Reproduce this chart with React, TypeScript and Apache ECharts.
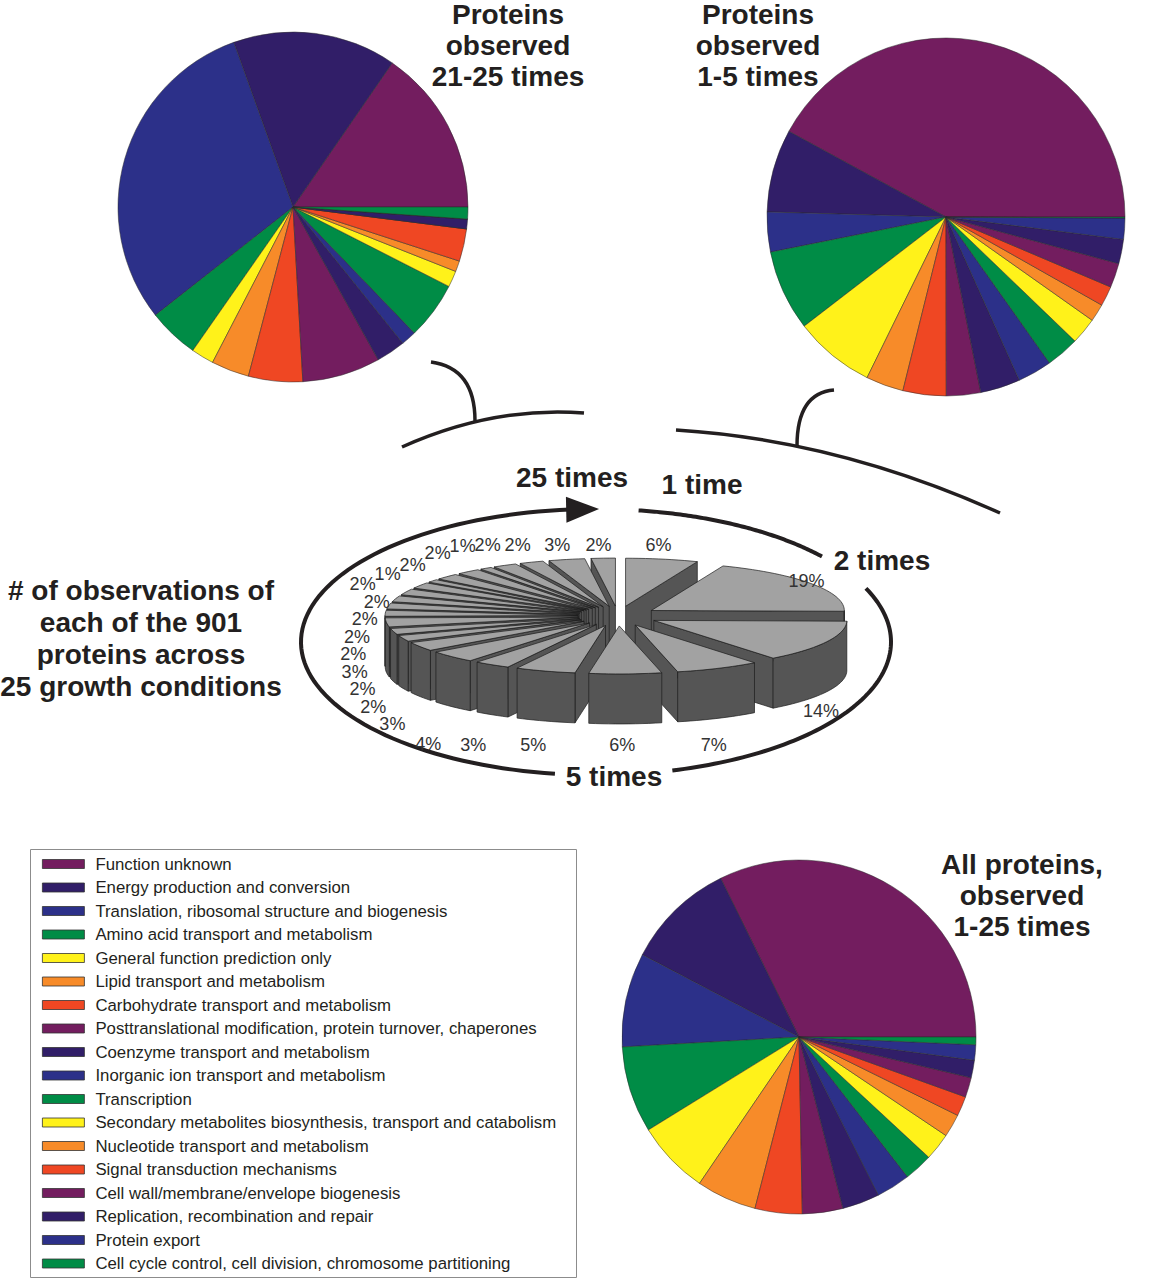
import React, { useEffect, useRef } from 'react';
import * as echarts from 'echarts';

const FONT = '"Liberation Sans", Arial, Helvetica, sans-serif';
const INK = '#231f20';

// COG functional categories (legend order = slice order, counter-clockwise from 3 o'clock)
const categories = [
  'Function unknown',
  'Energy production and conversion',
  'Translation, ribosomal structure and biogenesis',
  'Amino acid transport and metabolism',
  'General function prediction only',
  'Lipid transport and metabolism',
  'Carbohydrate transport and metabolism',
  'Posttranslational modification, protein turnover, chaperones',
  'Coenzyme transport and metabolism',
  'Inorganic ion transport and metabolism',
  'Transcription',
  'Secondary metabolites biosynthesis, transport and catabolism',
  'Nucleotide transport and metabolism',
  'Signal transduction mechanisms',
  'Cell wall/membrane/envelope biogenesis',
  'Replication, recombination and repair',
  'Protein export',
  'Cell cycle control, cell division, chromosome partitioning',
];

const categoryColors = [
  '#731d5f', '#311e68', '#2c3089', '#008c46', '#fff21a', '#f78b29', '#ef4723',
  '#731d5f', '#311e68', '#2c3089', '#008c46', '#fff21a', '#f78b29', '#ef4723',
  '#731d5f', '#311e68', '#2c3089', '#008c46',
];

// shares (%)
const pie21to25 = [15.4, 15.1, 30.1, 4.7, 2.1, 3.5, 5.0, 7.2, 2.7, 1.4, 5.3, 1.5, 1.0, 3.0, 0, 0.9, 0, 1.1];
const pie1to5 = [42.1, 7.5, 3.6, 7.3, 7.3, 3.4, 3.9, 3.1, 3.6, 3.1, 3.0, 2.4, 1.6, 1.8, 2.2, 2.2, 1.9, 0.1];
const pieAll = [32.3, 10.0, 8.6, 7.9, 6.7, 5.5, 4.3, 3.7, 3.4, 3.1, 2.6, 2.5, 2.1, 1.8, 1.8, 1.6, 1.4, 0.7];

// number of observations (1..25 times) -> % of the 901 proteins
const observationLabels = Array.from({ length: 25 }, (_, i) => (i === 0 ? '1 time' : `${i + 1} times`));
const observationShares = [6, 19, 14, 7, 6, 5, 3, 4, 3, 2, 2, 3, 2, 2, 2, 2, 2, 1, 2, 2, 1, 2, 2, 3, 2];

// ---------- 3D pie geometry (layout constants) ----------
const OBS = { cx: 618, cy: 616, rx: 193, ry: 48, depth: 50, explode: 40 };
const obsTotal = observationShares.reduce((a, b) => a + b, 0);
const obsStart: number[] = [];
observationShares.reduce((acc, v) => {
  obsStart.push(acc);
  return acc + v;
}, 0);
const toRad = (d: number) => (d * Math.PI) / 180;
const obsMid = (i: number) => ((obsStart[i] + observationShares[i] / 2) / obsTotal) * 360;

// label positions: on an outer ellipse, then pushed apart on the crowded left side
const obsLabelPos: number[][] = (() => {
  const pos = observationShares.map((_, i) => {
    const s = Math.sin(toRad(obsMid(i)));
    const c = Math.cos(toRad(obsMid(i)));
    return [615 + (s > 0 ? 230 : 262) * s, Math.min(745, Math.max(545, 653 - 130 * c)), c, s];
  });
  const W = 25;
  const H = 17.5;
  for (let i = pos.length - 2; i >= 0; i--) {
    const p = pos[i];
    const q = pos[i + 1];
    if (p[3] >= 0) break;
    if (Math.abs(p[0] - q[0]) < W && Math.abs(p[1] - q[1]) < H) {
      if (p[2] > 0.45) p[0] = q[0] - W;
      else p[1] = q[1] + H;
    }
  }
  return pos;
})();

function renderObsSlice(params: any, api: any) {
  const i = params.dataIndex;
  const v = api.value(0) as number;
  const a0 = (obsStart[i] / obsTotal) * 360;
  const a1 = ((obsStart[i] + v) / obsTotal) * 360;
  const mid = (a0 + a1) / 2;
  const sm = Math.sin(toRad(mid));
  const cm = Math.cos(toRad(mid));
  const ox = OBS.cx + OBS.explode * sm;
  const oy = OBS.cy - OBS.explode * (OBS.ry / OBS.rx) * cm;
  const pt = (deg: number, dz = 0) => [
    ox + OBS.rx * Math.sin(toRad(deg)),
    oy - OBS.ry * Math.cos(toRad(deg)) + dz,
  ];
  const arc = (from: number, to: number, dz: number) => {
    const n = Math.max(2, Math.ceil((to - from) / 2));
    const pts: number[][] = [];
    for (let k = 0; k <= n; k++) pts.push(pt(from + ((to - from) * k) / n, dz));
    return pts;
  };
  const z = Math.round((1 - cm) * 100) * 3;
  const sideStyle = { fill: '#555555', stroke: '#1c1c1c', lineWidth: 0.7, lineJoin: 'round' };
  const children: any[] = [];
  const cut = (deg: number) => ({
    type: 'polygon',
    z2: z,
    shape: { points: [[ox, oy], pt(deg), pt(deg, OBS.depth), [ox, oy + OBS.depth]] },
    style: sideStyle,
  });
  if (Math.sin(toRad(a0)) < -1e-6) children.push(cut(a0));
  if (Math.sin(toRad(a1)) > 1e-6) children.push(cut(a1));
  const w0 = Math.max(a0, 90);
  const w1 = Math.min(a1, 270);
  if (w1 > w0) {
    children.push({
      type: 'polygon',
      z2: z,
      shape: { points: [...arc(w0, w1, 0), ...arc(w0, w1, OBS.depth).reverse()] },
      style: sideStyle,
    });
  }
  children.push({
    type: 'polygon',
    z2: z + 1,
    shape: { points: [[ox, oy], ...arc(a0, a1, 0)] },
    style: { fill: '#a2a2a2', stroke: '#1c1c1c', lineWidth: 0.7, lineJoin: 'round' },
  });
  const lp = obsLabelPos[i];
  children.push({
    type: 'text',
    z2: 2000,
    x: lp[0],
    y: lp[1],
    style: {
      text: `${v}%`,
      font: `18px ${FONT}`,
      fill: '#333333',
      align: 'center',
      verticalAlign: 'middle',
      textAlign: 'center',
      textVerticalAlign: 'middle',
    },
  });
  return { type: 'group', children };
}

// ---------- decorations ----------
const ELL = { cx: 596, cy: 642, rx: 295, ry: 133 };
const ellPt = (t: number) => [ELL.cx + ELL.rx * Math.cos(toRad(t)), ELL.cy + ELL.ry * Math.sin(toRad(t))];
const ellArc = (t0: number, t1: number) => {
  const pts: number[][] = [];
  const n = 80;
  for (let k = 0; k <= n; k++) pts.push(ellPt(t0 + ((t1 - t0) * k) / n));
  return pts;
};
const lineStyle = (w: number) => ({ stroke: INK, lineWidth: w, fill: null, lineCap: 'butt' });

function arrowHead() {
  const tip = ellPt(270.6);
  const base = ellPt(264.2);
  const dx = tip[0] - base[0];
  const dy = tip[1] - base[1];
  const len = Math.hypot(dx, dy);
  const nx = -dy / len;
  const ny = dx / len;
  const h = 13;
  return [tip, [base[0] + nx * h, base[1] + ny * h], [base[0] - nx * h, base[1] - ny * h]];
}

const bold = (text: string, x: number, y: number, lh = 31) => ({
  type: 'text',
  x,
  y,
  style: {
    text,
    font: `bold 28px ${FONT}`,
    fill: INK,
    align: 'center',
    verticalAlign: 'middle',
    textAlign: 'center',
    textVerticalAlign: 'middle',
    lineHeight: lh,
  },
});

const pieSeries = (values: number[], center: number[], radius: number) => ({
  type: 'pie',
  center,
  radius,
  startAngle: 0,
  clockwise: false,
  silent: true,
  avoidLabelOverlap: false,
  minAngle: 0,
  label: { show: false },
  labelLine: { show: false },
  emphasis: { disabled: true },
  itemStyle: { borderColor: '#2a2a2a', borderWidth: 0.5 },
  data: categories.map((name, i) => ({ name, value: values[i], itemStyle: { color: categoryColors[i] } })),
});

export default function App() {
  const ref = useRef<HTMLDivElement>(null);
  useEffect(() => {
    document.body.style.margin = '0';
    const chart = echarts.init(ref.current!, null, { renderer: 'svg' });
    const option: any = {
      animation: false,
      backgroundColor: '#ffffff',
      legend: {
        data: categories,
        orient: 'vertical',
        left: 42,
        top: 855,
        itemWidth: 42,
        itemHeight: 9,
        itemGap: 5.5,
        icon: 'rect',
        padding: 0,
        selectedMode: false,
        textStyle: { fontFamily: FONT, fontSize: 16.8, color: INK, lineHeight: 18, padding: [0, 0, 0, 6] },
        itemStyle: { borderColor: '#333333', borderWidth: 0.8 },
      },
      graphic: [
        {
          type: 'rect',
          shape: { x: 30.5, y: 849.5, width: 546, height: 428 },
          style: { fill: 'none', stroke: '#8c8c8c', lineWidth: 1 },
        },
        bold('Proteins\nobserved\n21-25 times', 508, 45),
        bold('Proteins\nobserved\n1-5 times', 758, 45),
        bold('All proteins,\nobserved\n1-25 times', 1022, 895),
        bold('# of observations of\neach of the 901\nproteins across\n25 growth conditions', 141, 638.5, 31.7),
        bold('25 times', 572, 477),
        bold('1 time', 702, 484),
        bold('2 times', 882, 560),
        bold('5 times', 614, 776),
        { type: 'polyline', shape: { points: ellArc(98, 265) }, style: lineStyle(4) },
        { type: 'polyline', shape: { points: ellArc(-81.7, -40) }, style: lineStyle(4) },
        { type: 'polyline', shape: { points: ellArc(-23.8, 75) }, style: lineStyle(4) },
        { type: 'polygon', shape: { points: arrowHead() }, style: { fill: INK } },
        { type: 'bezierCurve', shape: { x1: 402, y1: 447, x2: 584, y2: 413, cpx1: 493, cpy1: 406 }, style: lineStyle(3.5) },
        { type: 'bezierCurve', shape: { x1: 475, y1: 421, x2: 431, y2: 362, cpx1: 475, cpy1: 368 }, style: lineStyle(3.5) },
        { type: 'bezierCurve', shape: { x1: 676, y1: 430, x2: 1000, y2: 513, cpx1: 838, cpy1: 440 }, style: lineStyle(3.5) },
        { type: 'bezierCurve', shape: { x1: 797, y1: 446, x2: 834, y2: 390, cpx1: 797, cpy1: 393 }, style: lineStyle(3.5) },
      ],
      series: [
        pieSeries(pie21to25, [293, 207], 175),
        pieSeries(pie1to5, [946, 217], 179),
        pieSeries(pieAll, [799, 1037], 177),
        {
          type: 'custom',
          name: 'Observations',
          coordinateSystem: 'none',
          silent: true,
          renderItem: renderObsSlice,
          data: observationShares.map((v, i) => ({ name: observationLabels[i], value: v })),
        },
      ],
    };
    chart.setOption(option);
    return () => chart.dispose();
  }, []);
  return <div ref={ref} style={{ width: 1156, height: 1280 }} />;
}
